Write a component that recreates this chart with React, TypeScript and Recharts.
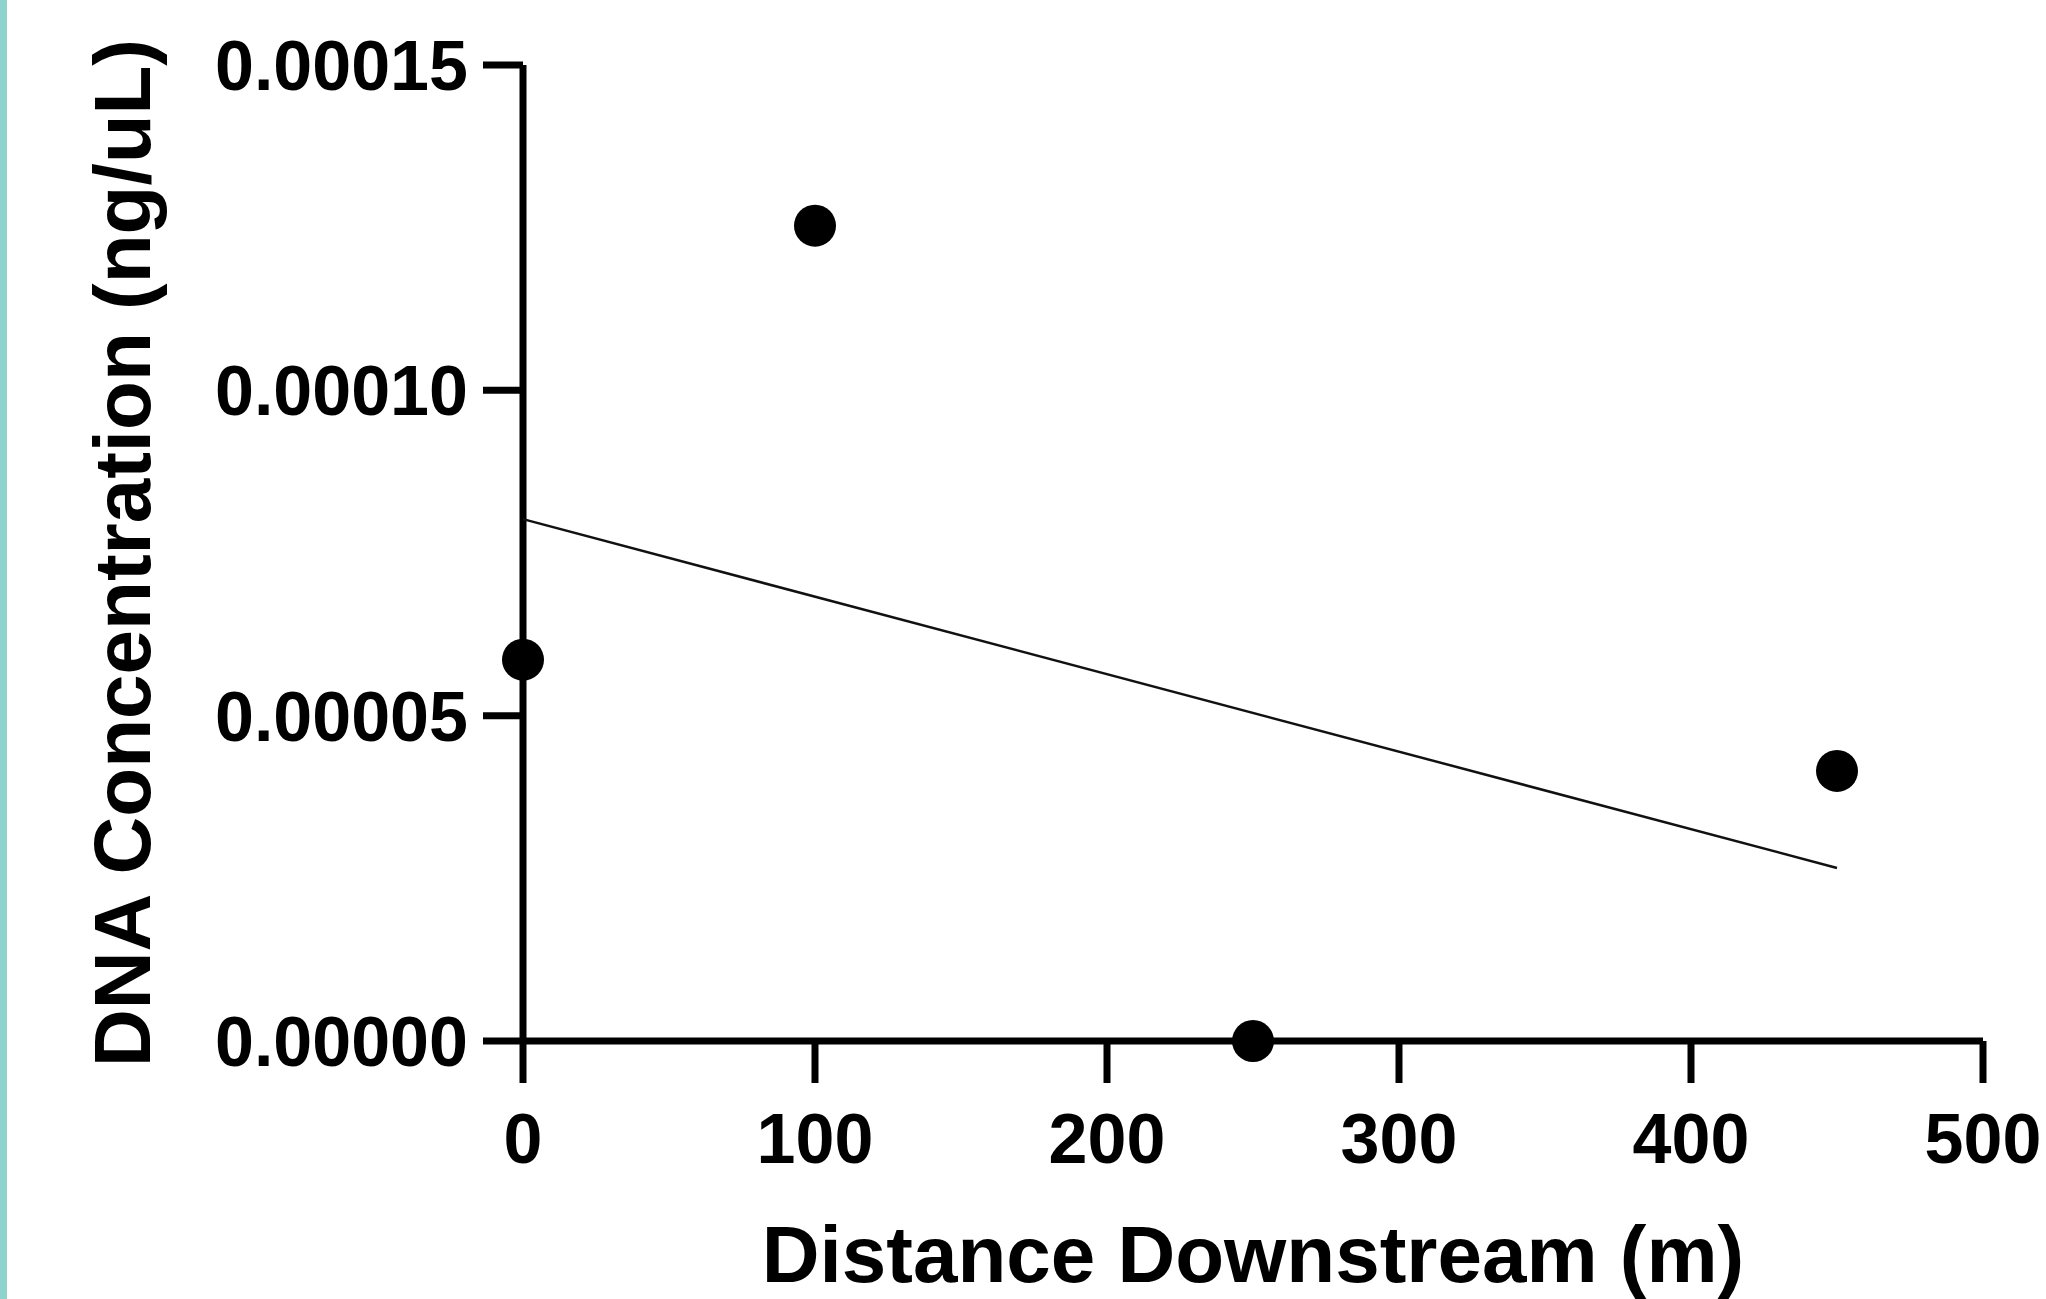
import React from 'react';
import {
  ScatterChart,
  Scatter,
  XAxis,
  YAxis,
  Label,
} from 'recharts';

// distance downstream (m) and DNA concentration (ng/uL)
const distances = [0, 100, 250, 450];
const concentrations = [0.0000586, 0.0001253, 0.0, 0.0000415];

// fitted line end points
const fitDistances = [0, 450];
const fitConcentrations = [0.0000802, 0.0000266];

const xTicks = [0, 100, 200, 300, 400, 500];
const yTicks = [0, 0.00005, 0.0001, 0.00015];

const FONT = '"Liberation Sans", Arial, Helvetica, sans-serif';

const points = distances.map((d, i) => ({ x: d, y: concentrations[i] }));
const fit = fitDistances.map((d, i) => ({ x: d, y: fitConcentrations[i] }));

const tickStyle = {
  fontSize: 70,
  fill: '#000000',
  fontWeight: 700,
  fontFamily: FONT,
};

function Dot(props: any) {
  const { cx, cy } = props;
  if (cx == null || cy == null) return null;
  return <circle cx={cx} cy={cy} r={21} fill="#000000" />;
}

export default function App() {
  return (
    <div
      style={{
        position: 'absolute',
        left: 0,
        top: 0,
        width: 2046,
        height: 1299,
        backgroundColor: '#ffffff',
        overflow: 'hidden',
      }}
    >
      <div
        style={{
          position: 'absolute',
          left: 0,
          top: 0,
          width: 7,
          height: 1299,
          backgroundColor: '#8fd4cc',
        }}
      />
      <ScatterChart
        width={2046}
        height={1299}
        margin={{ top: 65, right: 63, left: 0, bottom: 0 }}
      >
        <XAxis
          type="number"
          dataKey="x"
          domain={[0, 500]}
          ticks={xTicks}
          height={258}
          stroke="#000000"
          strokeWidth={7}
          tickSize={42}
          tickMargin={30}
          tick={tickStyle}
        >
          <Label
            content={({ viewBox }: any) => (
              <text
                x={viewBox.x + viewBox.width / 2}
                y={viewBox.y + 241}
                textAnchor="middle"
                fontSize={80}
                fontWeight={700}
                fontFamily={FONT}
                fill="#000000"
              >
                Distance Downstream (m)
              </text>
            )}
          />
        </XAxis>
        <YAxis
          type="number"
          dataKey="y"
          domain={[0, 0.00015]}
          ticks={yTicks}
          width={523}
          stroke="#000000"
          strokeWidth={7}
          tickSize={40}
          tickMargin={15}
          tick={tickStyle}
          tickFormatter={(v: number) => v.toFixed(5)}
        >
          <Label
            content={({ viewBox }: any) => {
              const x = viewBox.x + 150;
              const y = viewBox.y + viewBox.height / 2;
              return (
                <text
                  x={x}
                  y={y}
                  transform={`rotate(-90, ${x}, ${y})`}
                  textAnchor="middle"
                  fontSize={80}
                  fontWeight={700}
                  fontFamily={FONT}
                  fill="#000000"
                >
                  DNA Concentration (ng/uL)
                </text>
              );
            }}
          />
        </YAxis>
        <Scatter
          data={fit}
          line={{ stroke: '#111111', strokeWidth: 2.5 }}
          shape={() => <g />}
          isAnimationActive={false}
        />
        <Scatter
          data={points}
          fill="#000000"
          shape={Dot}
          isAnimationActive={false}
        />
      </ScatterChart>
    </div>
  );
}
